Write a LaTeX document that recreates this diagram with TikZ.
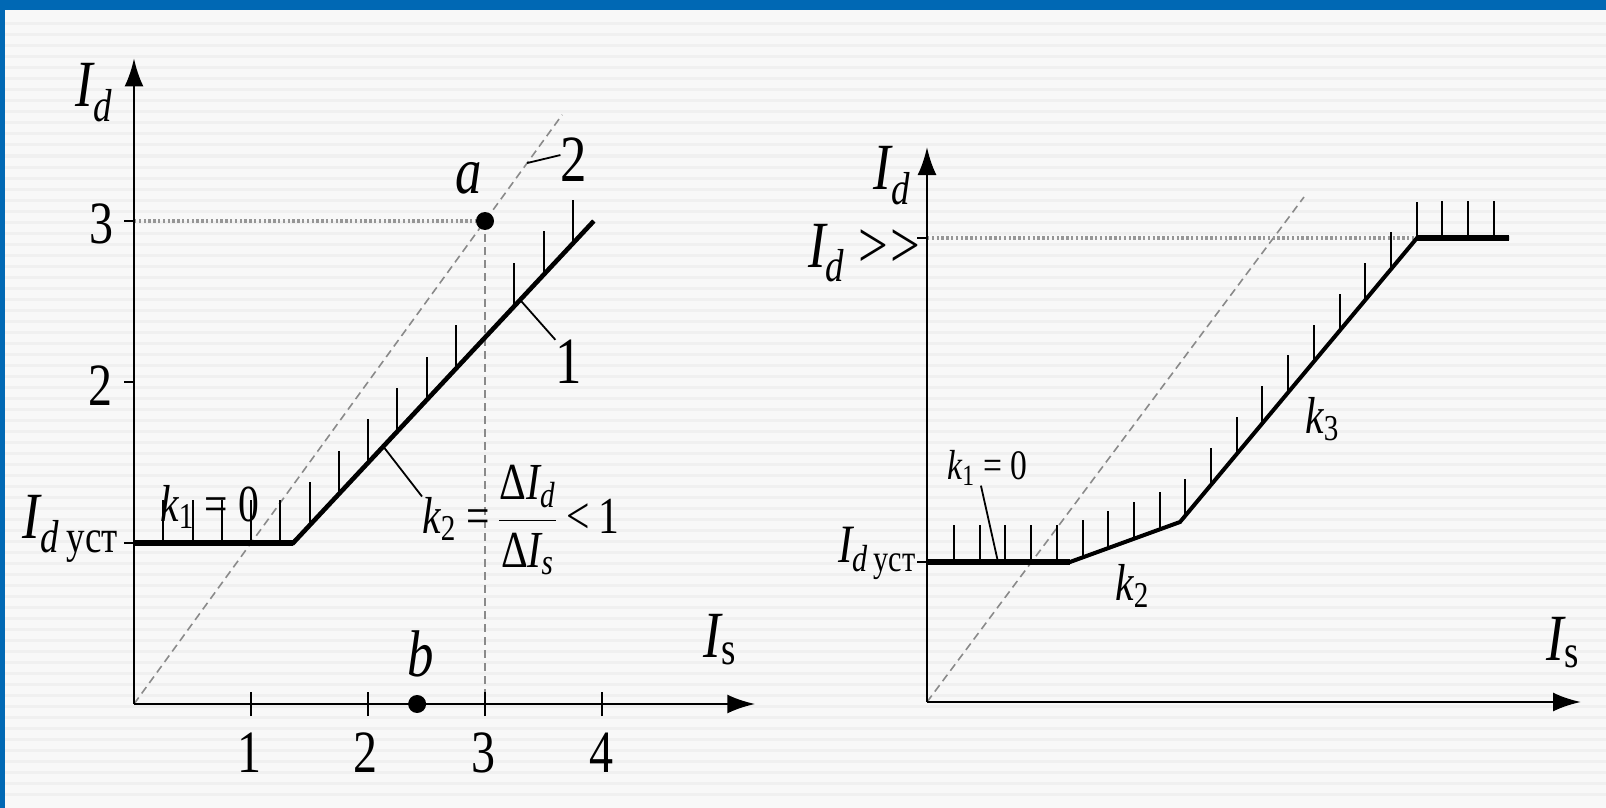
\documentclass[tikz,border=0pt]{standalone}
\usepackage{fontspec}
\setmainfont{Liberation Serif}[FakeStretch=0.8]
\usetikzlibrary{arrows.meta}
\definecolor{frame}{HTML}{0068B4}
\definecolor{paper}{HTML}{F8F8F8}
\definecolor{stripe}{HTML}{F0F0F0}
\definecolor{guide}{HTML}{8A8A8A}
\newcommand{\Idyst}{I\textsubscript{d\,\textup{уст}}}

\begin{document}
\begin{tikzpicture}[x=0.5pt,y=-0.5pt,
  axisline/.style={line width=1.4pt,-{Latex[length=14pt,width=9.5pt]}},
  curve/.style={line width=2.3pt,line join=miter},
  flat/.style={line width=3.4pt},
  hatch/.style={line width=1pt},
  tickmark/.style={line width=1pt},
  guideline/.style={draw=guide,line width=0.8pt,dash pattern=on 4pt off 2.5pt},
  levelline/.style={draw=guide!90,line width=1.6pt,dash pattern=on 1.2pt off 1.2pt},
  leader/.style={line width=0.9pt},
  lbl/.style={font=\fontsize{33}{37}\selectfont\itshape,inner sep=0pt},
  lblsmall/.style={font=\fontsize{27}{31}\selectfont\itshape,inner sep=0pt},
  num/.style={font=\fontsize{30}{34}\selectfont,inner sep=0pt},
  curvenum/.style={font=\fontsize{33}{37}\selectfont,inner sep=0pt},
  coef/.style={font=\fontsize{26}{30}\selectfont\itshape,inner sep=0pt},
  coefsmall/.style={font=\fontsize{21}{25}\selectfont\itshape,inner sep=0pt},
  pointdot/.style={circle,fill=black,inner sep=0pt,minimum size=9pt}
]
\useasboundingbox (0,0) rectangle (1606,808);
% slide background
\fill[paper] (0,0) rectangle (1606,808);
\foreach \y in {24,35,...,800}
  \draw[stripe,line width=1.5pt] (5,\y) -- (1606,\y);
\fill[frame] (0,0) rectangle (1606,10);
\fill[frame] (0,0) rectangle (5,808);

% left characteristic
\begin{scope}[shift={(134,704)},x=58.5pt,y=80.5pt]
  \coordinate (O1) at (0,0);
  \coordinate (K1) at (1.36,1);
  \coordinate (E1) at (3.93,3);
  \coordinate (A) at (3,3);
  \coordinate (B) at (2.42,0);
  \coordinate (L1) at (3.30,2.51);
  \coordinate (L2) at (3.36,3.36);
  \coordinate (L3) at (2.13,1.6);
  \draw[guideline] (O1) -- (3.66,3.66);
  \draw[levelline] (0,3) -- (A);
  \draw[guideline] (A) -- (3,0);
  \draw[axisline] (O1) -- (0,4.01);
  \draw[axisline] (O1) -- (5.31,0);
  \foreach \x in {1,...,4}
    \draw[tickmark] (\x,-0.075) -- (\x,0.075);
  \foreach \y in {1,2,3}
    \draw[tickmark] (-0.085,\y) -- (0,\y);
  \draw[curve] (0,1) -- (K1) -- (E1);
  \draw[flat] (0,1) -- (K1);
  \foreach \x in {0.25,0.5,...,2.75,3.25,3.5,3.75}
    \draw[hatch] (\x,{1+0.778*max(0,\x-1.36)}) -- ++(0,0.27);
  \node[pointdot] (adot) at (A) {};
  \node[pointdot] (bdot) at (B) {};
\end{scope}

% right characteristic
\begin{scope}[shift={(927,702)},x=0.5pt,y=0.5pt]
  \coordinate (O2) at (0,0);
  \coordinate (P1) at (0,140);
  \coordinate (P2) at (143,140);
  \coordinate (P3) at (253,180);
  \coordinate (P4) at (490,464);
  \coordinate (P5) at (582,464);
  \coordinate (L4) at (71,140);
  \draw[guideline] (O2) -- (377,505);
  \draw[levelline] (0,464) -- (P4);
  \draw[axisline] (O2) -- (0,555);
  \draw[axisline] (O2) -- (654,0);
  \foreach \y in {140,464}
    \draw[tickmark] (-10,\y) -- (0,\y);
  \draw[curve,line width=2pt] (P1) -- (P2) -- (P3) -- (P4) -- (P5);
  \draw[flat] (P1) -- (P2);
  \draw[flat] (P4) -- (P5);
  \foreach \i in {0,...,21} {
    \pgfmathsetmacro{\hx}{27+25.7*\i}
    \pgfmathsetmacro{\hy}{140+0.364*max(0,min(\hx,253)-143)+1.198*max(0,min(\hx,490)-253)}
    \draw[hatch] (\hx,\hy) -- ++(0,37);
  }
\end{scope}

% left labels
\node[lbl,anchor=base] (idL) at (94,107) {I\textsubscript{d}};
\node[num] (n3) at (101,224) {3};
\node[num] (n2) at (100,386) {2};
\node[lbl,anchor=base east] (idystL) at (119,538) {\Idyst};
\node[coef,anchor=base west] (k1L) at (160,521) {k\textsubscript{\textup{1}}\textup{ = 0}};
\node[coef,anchor=base west] (k2L) at (422,533) {k\textsubscript{\textup{2}}\textup{ =}};
\node[coef,anchor=base west] (fracL) at ([xshift=3pt]k2L.base east)
  {\(\displaystyle\frac{\mbox{\textup{Δ}I\textsubscript{d}}}{\mbox{\textup{Δ}I\textsubscript{s}}}\)\textup{\,<\,1}};
\node[lbl,anchor=base] (aL) at (469,193) {a};
\node[lbl,anchor=base] (bL) at (421,676) {b};
\node[curvenum] (c2) at (574,160) {2};
\node[curvenum] (c1) at (569,362) {1};
\node[lbl,anchor=base] (isL) at (720,657) {I\textsubscript{\textup{s}}};
\foreach \x/\t in {249/1,365/2,483/3,601/4}
  \node[num] (t\t) at (\x,753) {\t};
\draw[leader] (L1) -- (c1.north west);
\draw[leader] (L2) -- (c2.160);
\draw[leader] (L3) -- (k2L.north west);

% right labels
\node[lbl,anchor=base] (idR) at (892,190) {I\textsubscript{d}};
\node[lbl,anchor=base west] (idggR) at (808,267) {I\textsubscript{d}\textup{ >\kern1pt>}};
\node[lblsmall,anchor=base east] (idystR) at (917,562) {\Idyst};
\node[coefsmall,anchor=base west] (k1R) at (947,479) {k\textsubscript{\textup{1}}\textup{ = 0}};
\node[coef,anchor=base west] (k2R) at (1115,600) {k\textsubscript{\textup{2}}};
\node[coef,anchor=base west] (k3R) at (1305,433) {k\textsubscript{\textup{3}}};
\node[lbl,anchor=base west] (isR) at (1546,660) {I\textsubscript{\textup{s}}};
\draw[leader] (k1R.-110) -- (L4);
\end{tikzpicture}
\end{document}
